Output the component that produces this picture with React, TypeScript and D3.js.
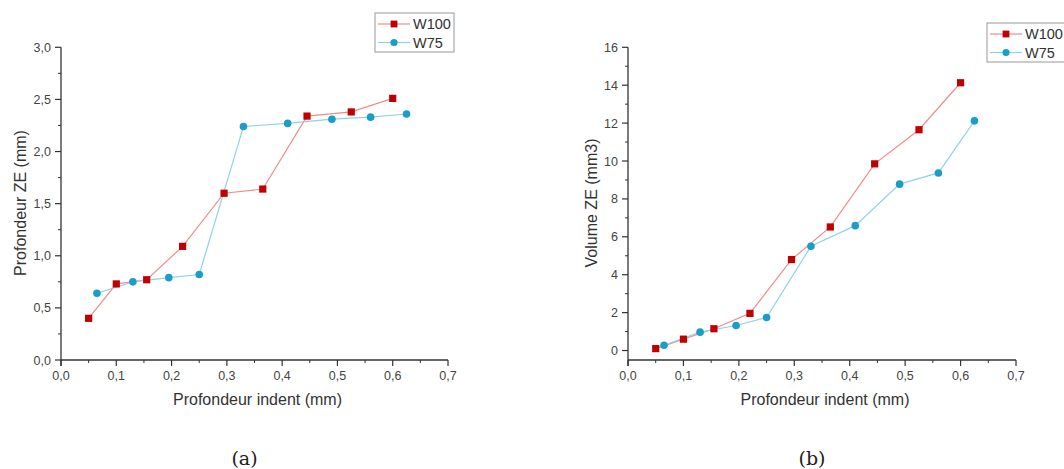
import React from "react";
import * as d3 from "d3";

const xW100 = [0.05, 0.10, 0.155, 0.22, 0.295, 0.365, 0.445, 0.525, 0.60];
const xW75 = [0.065, 0.13, 0.195, 0.25, 0.33, 0.41, 0.49, 0.56, 0.625];
const depthW100 = [0.40, 0.73, 0.77, 1.09, 1.60, 1.64, 2.34, 2.38, 2.51];
const depthW75 = [0.64, 0.75, 0.79, 0.82, 2.24, 2.27, 2.31, 2.33, 2.36];
const volW100 = [0.1, 0.6, 1.15, 1.96, 4.8, 6.52, 9.85, 11.65, 14.13];
const volW75 = [0.28, 0.97, 1.32, 1.74, 5.5, 6.59, 8.78, 9.37, 12.12];
const xTicks = [0, 0.1, 0.2, 0.3, 0.4, 0.5, 0.6, 0.7];
const xMinor = [0.05, 0.15, 0.25, 0.35, 0.45, 0.55, 0.65];
const depthTicks = [0, 0.5, 1, 1.5, 2, 2.5, 3];
const depthMinor = [0.25, 0.75, 1.25, 1.75, 2.25, 2.75];
const volTicks = [0, 2, 4, 6, 8, 10, 12, 14, 16];
const volMinor = [1, 3, 5, 7, 9, 11, 13, 15];
const seriesNames = ["W100", "W75"];

const RED = "#c00000";
const RED_LINE = "#f08c8c";
const BLUE = "#1a9dca";
const BLUE_LINE = "#90d3e8";
const AXIS = "#333";
const FONT = "'Liberation Sans', Arial, sans-serif";

type PanelProps = {
  left: number; right: number; top: number; bottom: number;
  yDomain: [number, number];
  yTicks: number[]; yMinor: number[];
  yFmt: (v: number) => string;
  yTitle: string; yTitleX: number;
  s1: number[]; s2: number[];
  legend: { x: number; y: number; w: number; h: number };
  caption: string;
};

const comma = (d: number, digits: number) => d.toFixed(digits).replace(".", ",");

function Panel(p: PanelProps) {
  const x = d3.scaleLinear().domain([0, 0.7]).range([p.left, p.right]);
  const y = d3.scaleLinear().domain(p.yDomain).range([p.bottom, p.top]);
  const line = d3.line<[number, number]>().x(d => x(d[0])).y(d => y(d[1]));
  const d1: [number, number][] = xW100.map((v, i) => [v, p.s1[i]]);
  const d2: [number, number][] = xW75.map((v, i) => [v, p.s2[i]]);
  const xAxisY = p.bottom;
  const lg = p.legend;
  return (
    <g>
      {/* axes */}
      <line x1={p.left} x2={p.left} y1={p.top} y2={xAxisY + 6} stroke={AXIS} strokeWidth={1.3} />
      <line x1={p.left} x2={p.right} y1={xAxisY} y2={xAxisY} stroke={AXIS} strokeWidth={1.3} />
      {xTicks.map(t => (
        <g key={"xt" + t}>
          <line x1={x(t)} x2={x(t)} y1={xAxisY} y2={xAxisY + 6} stroke={AXIS} strokeWidth={1.2} />
          <text x={x(t)} y={xAxisY + 20} textAnchor="middle" fontFamily={FONT} fontSize={12.5} fill="#444">{comma(t, 1)}</text>
        </g>
      ))}
      {xMinor.map(t => (
        <line key={"xm" + t} x1={x(t)} x2={x(t)} y1={xAxisY} y2={xAxisY + 3} stroke={AXIS} strokeWidth={1} />
      ))}
      {p.yTicks.map(t => (
        <g key={"yt" + t}>
          <line x1={p.left - 6} x2={p.left} y1={y(t)} y2={y(t)} stroke={AXIS} strokeWidth={1.2} />
          <text x={p.left - 10} y={y(t) + 4.5} textAnchor="end" fontFamily={FONT} fontSize={12.5} fill="#444">{p.yFmt(t)}</text>
        </g>
      ))}
      {p.yMinor.map(t => (
        <line key={"ym" + t} x1={p.left - 3} x2={p.left} y1={y(t)} y2={y(t)} stroke={AXIS} strokeWidth={1} />
      ))}
      <text x={(p.left + p.right) / 2 + 3} y={405} textAnchor="middle" fontFamily={FONT} fontSize={16} fill="#333">Profondeur indent (mm)</text>
      <text transform={`translate(${p.yTitleX},203) rotate(-90)`} textAnchor="middle" fontFamily={FONT} fontSize={16} fill="#333">{p.yTitle}</text>
      {/* series */}
      <path d={line(d1) || ""} fill="none" stroke={RED_LINE} strokeWidth={1.2} />
      <path d={line(d2) || ""} fill="none" stroke={BLUE_LINE} strokeWidth={1.2} />
      {d2.map((d, i) => (
        <circle key={"c" + i} cx={x(d[0])} cy={y(d[1])} r={3.8} fill={BLUE} />
      ))}
      {d1.map((d, i) => (
        <rect key={"r" + i} x={x(d[0]) - 3.6} y={y(d[1]) - 3.6} width={7.2} height={7.2} fill={RED} />
      ))}
      {/* legend */}
      <rect x={lg.x} y={lg.y} width={lg.w} height={lg.h} fill="white" stroke="#999" strokeWidth={1} />
      {seriesNames.map((n, i) => {
        const ly = lg.y + 11 + i * 18.5;
        const isRed = i === 0;
        return (
          <g key={n}>
            <line x1={lg.x + 3} x2={lg.x + 35} y1={ly} y2={ly} stroke={isRed ? RED_LINE : BLUE_LINE} strokeWidth={1.2} />
            {isRed ? (
              <rect x={lg.x + 19 - 3.4} y={ly - 3.4} width={6.8} height={6.8} fill={RED} />
            ) : (
              <circle cx={lg.x + 19} cy={ly} r={3.6} fill={BLUE} />
            )}
            <text x={lg.x + 38} y={ly + 5} fontFamily={FONT} fontSize={14.5} fill="#333">{n}</text>
          </g>
        );
      })}
      <text x={(p.left + p.right) / 2 - 10} y={465} textAnchor="middle" fontFamily="'DejaVu Serif', serif" fontSize={19} fill="#222">{p.caption}</text>
    </g>
  );
}

export default function App() {
  return (
    <svg width={1064} height={469} style={{ position: "absolute", left: 0, top: 0, background: "white" }}>
      <rect width={1064} height={469} fill="white" />
      <Panel
        left={61} right={448} top={47.3} bottom={360}
        yDomain={[0, 3]} yTicks={depthTicks} yMinor={depthMinor}
        yFmt={v => comma(v, 1)} yTitle="Profondeur ZE (mm)" yTitleX={25.5}
        s1={depthW100} s2={depthW75}
        legend={{ x: 375, y: 13, w: 79, h: 39 }}
        caption="(a)"
      />
      <Panel
        left={628} right={1016} top={47.3} bottom={360}
        yDomain={[-0.5, 16]} yTicks={volTicks} yMinor={volMinor}
        yFmt={v => String(v)} yTitle="Volume ZE (mm3)" yTitleX={597}
        s1={volW100} s2={volW75}
        legend={{ x: 987, y: 23, w: 90, h: 39 }}
        caption="(b)"
      />
    </svg>
  );
}
